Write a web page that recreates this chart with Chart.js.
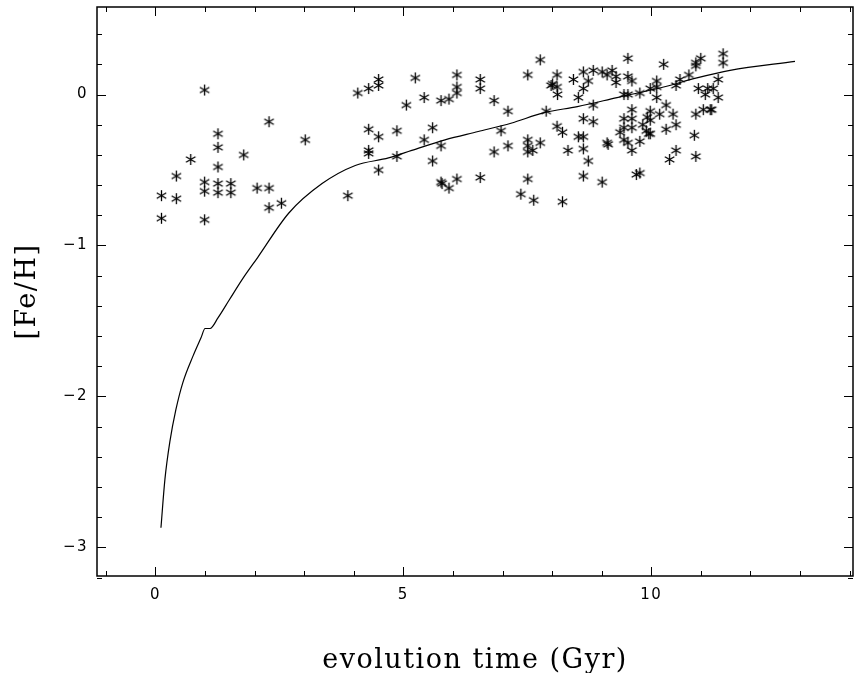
<!DOCTYPE html>
<html>
<head>
<meta charset="utf-8">
<script src="https://cdn.jsdelivr.net/npm/chart.js@4.4.0/dist/chart.umd.min.js"></script>
<style>
    html, body { margin: 0; padding: 0; background: #fff; }
</style>
</head>
<body>
<canvas id="chart" width="858" height="673"></canvas>
<script>
// Observed stars: age (Gyr) and [Fe/H]
const starAge = [
    0.12, 0.12, 0.42, 0.42, 0.71, 0.99, 0.99, 0.99, 0.99, 1.26,
    1.26, 1.26, 1.26, 1.26, 1.52, 1.52, 1.78, 2.05, 2.29, 2.29,
    2.29, 2.54, 3.02, 3.88, 4.08, 4.30, 4.50, 4.50, 4.30, 4.50,
    4.30, 4.30, 4.50, 4.87, 4.87, 5.06, 5.24, 5.42, 5.42, 5.59,
    5.59, 5.76, 5.76, 5.76, 5.78, 5.92, 5.92, 6.08, 6.08, 6.08,
    6.08, 6.55, 6.55, 6.55, 6.83, 6.83, 6.97, 7.11, 7.11, 7.37,
    7.51, 7.51, 7.51, 7.51, 7.61, 7.51, 7.63, 7.76, 7.76, 7.88,
    7.98, 8.01, 8.10, 8.10, 8.11, 8.10, 8.21, 8.21, 8.32, 8.43,
    8.53, 8.53, 8.63, 8.63, 8.63, 8.63, 8.63, 8.63, 8.73, 8.73,
    8.83, 8.83, 8.83, 9.01, 9.01, 9.11, 9.21, 9.29, 9.29, 9.11,
    9.13, 9.53, 9.53, 9.61, 9.45, 9.53, 9.77, 9.61, 9.45, 9.61,
    9.45, 9.61, 9.37, 9.45, 9.53, 9.61, 9.77, 9.83, 9.92, 9.98,
    9.98, 9.90, 9.95, 9.98, 9.70, 9.77, 9.98, 10.11, 10.11, 10.11,
    10.17, 10.25, 10.30, 10.30, 10.44, 10.50, 10.50, 10.50, 10.37, 10.58,
    10.76, 10.90, 10.90, 11.00, 10.95, 10.90, 10.87, 10.90, 11.05, 11.09,
    11.14, 11.19, 11.22, 11.25, 11.35, 11.35, 11.45, 11.45
];
const starFeH = [
    -0.67, -0.82, -0.54, -0.69, -0.43, 0.03, -0.58, -0.64, -0.83, -0.26,
    -0.35, -0.48, -0.59, -0.65, -0.59, -0.65, -0.40, -0.62, -0.18, -0.62,
    -0.75, -0.72, -0.30, -0.67, 0.01, 0.04, 0.10, 0.06, -0.23, -0.28,
    -0.37, -0.39, -0.50, -0.24, -0.41, -0.07, 0.11, -0.02, -0.30, -0.22,
    -0.44, -0.04, -0.34, -0.58, -0.59, -0.03, -0.62, 0.13, 0.05, 0.01,
    -0.56, 0.10, 0.04, -0.55, -0.04, -0.38, -0.24, -0.11, -0.34, -0.66,
    0.13, -0.30, -0.34, -0.38, -0.37, -0.56, -0.70, 0.23, -0.32, -0.11,
    0.06, 0.07, 0.13, 0.05, 0.00, -0.21, -0.25, -0.71, -0.37, 0.10,
    -0.02, -0.28, 0.15, 0.04, -0.16, -0.28, -0.36, -0.54, 0.09, -0.44,
    0.16, -0.07, -0.18, 0.15, -0.58, 0.13, 0.16, 0.12, 0.08, -0.32,
    -0.33, 0.24, 0.12, 0.09, 0.00, 0.00, 0.01, -0.10, -0.16, -0.16,
    -0.22, -0.22, -0.25, -0.30, -0.32, -0.37, -0.31, -0.20, -0.15, -0.11,
    -0.17, -0.24, -0.26, -0.26, -0.53, -0.52, 0.04, 0.09, 0.05, -0.02,
    -0.13, 0.20, -0.07, -0.23, -0.13, 0.06, -0.20, -0.37, -0.43, 0.10,
    0.13, 0.21, 0.19, 0.24, 0.04, -0.13, -0.27, -0.41, -0.10, 0.00,
    0.04, -0.10, -0.10, 0.04, 0.10, -0.02, 0.27, 0.21
];

// Model curve
const modelAge = [
    0.11, 0.19, 0.29, 0.41, 0.55, 0.76, 0.92, 1.00, 1.10, 1.26,
    1.49, 1.76, 2.06, 2.69, 3.36, 4.03, 4.70, 5.17, 5.84, 6.51,
    7.17, 7.84, 8.51, 9.31, 10.25, 10.92, 11.59, 12.90
];
const modelFeH = [
    -2.87, -2.55, -2.30, -2.09, -1.91, -1.73, -1.61, -1.55, -1.55, -1.48,
    -1.36, -1.22, -1.08, -0.785, -0.59, -0.47, -0.42, -0.37, -0.30, -0.245,
    -0.19, -0.12, -0.08, -0.02, 0.05, 0.11, 0.16, 0.22
];

const xTickValues = [0, 5, 10];
const yTickValues = [-3, -2, -1, 0];

// six-armed asterisk marker
function makeAsterisk(r) {
    const c = document.createElement('canvas');
    const s = Math.ceil(2 * r + 2);
    c.width = s;
    c.height = s;
    const g = c.getContext('2d');
    g.strokeStyle = '#000';
    g.lineWidth = 1.3;
    const m = s / 2;
    [90, 30, 150].forEach(a => {
        const t = a * Math.PI / 180;
        g.beginPath();
        g.moveTo(m - r * Math.cos(t), m - r * Math.sin(t));
        g.lineTo(m + r * Math.cos(t), m + r * Math.sin(t));
        g.stroke();
    });
    return c;
}

// frame with inward ticks on all four sides
const frameTicks = {
    id: 'frameTicks',
    beforeDraw(chart) {
        chart.ctx.letterSpacing = '1.5px';
    },
    beforeDatasetsDraw(chart) {
        chart.ctx.letterSpacing = '0px';
    },
    afterDatasetsDraw(chart) {
        const { ctx, chartArea: a, scales: { x, y } } = chart;
        ctx.save();
        ctx.strokeStyle = '#000';
        ctx.lineWidth = 1;
        const seg = (x1, y1, x2, y2) => {
            ctx.beginPath();
            ctx.moveTo(x1, y1);
            ctx.lineTo(x2, y2);
            ctx.stroke();
        };
        for (let v = -1; v <= 14; v++) {
            const px = Math.round(x.getPixelForValue(v)) + 0.5;
            const len = v % 5 === 0 ? 9 : 5;
            seg(px, a.bottom, px, a.bottom - len);
            seg(px, a.top, px, a.top + len);
        }
        for (let k = -16; k <= 2; k++) {
            const py = Math.round(y.getPixelForValue(k / 5)) + 0.5;
            const len = k % 5 === 0 ? 9 : 5;
            seg(a.left, py, a.left + len, py);
            seg(a.right, py, a.right - len, py);
        }
        ctx.lineWidth = 1.5;
        ctx.strokeRect(a.left, a.top, a.right - a.left, a.bottom - a.top);
        ctx.restore();
    }
};

const fmt = v => (v < 0 ? '\u2212' + Math.abs(v) : String(v));
const tickFont = { family: 'DejaVu Sans', size: 15 };
const titleFont = { family: 'DejaVu Serif', size: 27 };

function noPad(s) {
    s.paddingTop = 0;
    s.paddingBottom = 0;
    s.paddingLeft = 0;
    s.paddingRight = 0;
}

new Chart(document.getElementById('chart'), {
    type: 'scatter',
    data: {
        datasets: [
            {
                type: 'line',
                data: modelAge.map((a, i) => ({ x: a, y: modelFeH[i] })),
                borderColor: '#000',
                borderWidth: 1.2,
                pointRadius: 0,
                fill: false,
                cubicInterpolationMode: 'monotone'
            },
            {
                data: starAge.map((a, i) => ({ x: a, y: starFeH[i] })),
                pointStyle: makeAsterisk(5.5)
            }
        ]
    },
    options: {
        responsive: false,
        animation: false,
        layout: { padding: { top: 7, right: 1, left: 0, bottom: 0 } },
        plugins: { legend: { display: false }, tooltip: { enabled: false } },
        scales: {
            x: {
                type: 'linear',
                min: -1.18,
                max: 14.07,
                afterBuildTicks: s => { s.ticks = xTickValues.map(v => ({ value: v })); },
                afterFit: s => { s.height = 97; noPad(s); },
                grid: { display: false, drawTicks: false },
                border: { display: false },
                ticks: { color: '#000', font: tickFont, padding: 10, maxRotation: 0, callback: fmt },
                title: {
                    display: true,
                    text: 'evolution time (Gyr)',
                    color: '#000',
                    font: titleFont,
                    padding: { top: 0, bottom: -4 }
                }
            },
            y: {
                type: 'linear',
                min: -3.19,
                max: 0.58,
                afterBuildTicks: s => { s.ticks = yTickValues.map(v => ({ value: v })); },
                afterFit: s => { s.width = 97; noPad(s); },
                grid: { display: false, drawTicks: false },
                border: { display: false },
                ticks: { color: '#000', font: tickFont, padding: 9, callback: fmt },
                title: {
                    display: true,
                    text: '[Fe/H]',
                    color: '#000',
                    font: titleFont,
                    padding: { top: 12, bottom: 0 }
                }
            }
        }
    },
    plugins: [frameTicks]
});
</script>
</body>
</html>
